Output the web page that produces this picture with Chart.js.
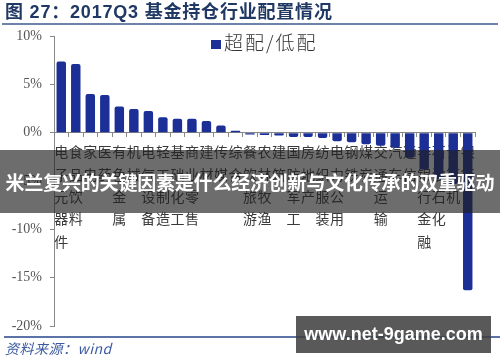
<!DOCTYPE html>
<html>
<head>
<meta charset="utf-8">
<script src="https://cdn.jsdelivr.net/npm/chart.js@4.4.1/dist/chart.umd.min.js"></script>
<style>
  body { margin: 0; background: #fff; }
  #wrap { position: relative; width: 500px; height: 362px; overflow: hidden; font-family: "Noto Sans CJK SC", sans-serif; }
  #myChart { position: absolute; left: 0; top: 0; }
  .title { position: absolute; left: 5px; top: 0px; font-size: 18px; font-weight: bold; color: #1f3864; letter-spacing: 0.8px; line-height: 24px; font-family: "Liberation Sans", "Noto Sans CJK SC", sans-serif; white-space: nowrap; }
  .topline { position: absolute; left: 2px; right: 2px; top: 23px; height: 2px; background: #6f82aa; }
  .legend { position: absolute; left: 211px; top: 29px; font-size: 19px; color: #333; white-space: nowrap; line-height: 26px; letter-spacing: 2px; font-weight: 300; }
  .legend i { display: inline-block; width: 10px; height: 9px; background: #1b2f96; margin-right: 3px; vertical-align: 1px; }
  .banner { position: absolute; left: 0; top: 150px; width: 500px; height: 63px; background: rgba(30,30,30,0.65); color: #fff; font-weight: bold; font-size: 19px; line-height: 63px; text-align: center; white-space: nowrap; letter-spacing: -0.2px; }
  .botline { position: absolute; left: 4px; right: 0; top: 336px; height: 1.5px; background: #5b73a6; }
  .source { position: absolute; left: 5px; top: 338px; font-size: 14px; font-style: italic; color: #3b5aa0; line-height: 20px; white-space: nowrap; letter-spacing: 0.5px; }
  .mark { position: absolute; left: 296px; top: 316px; width: 195px; height: 37px; background: rgba(60,60,60,0.85); color: #fff; font-weight: bold; font-size: 18px; line-height: 37px; text-align: center; font-family: "Liberation Sans", sans-serif; }
</style>
</head>
<body>
<div id="wrap">
  <canvas id="myChart" width="500" height="362"></canvas>
  <div class="title">图 27：2017Q3 基金持仓行业配置情况</div>
  <div class="topline"></div>
  <div class="legend"><i></i>超配/低配</div>
  <div class="botline"></div>
  <div class="source">资料来源：wind</div>
  <div class="banner">米兰复兴的关键因素是什么经济创新与文化传承的双重驱动</div>
  <div class="mark">www.net-9game.com</div>
</div>
<script>
  // industries, top to bottom of each vertical label
  let industries = ['电子元器件', '食品饮料', '家电', '医药', '有色金属', '机械', '电气设备', '轻工制造',
    '基础化工', '商业零售', '建材', '传媒', '综合', '餐饮旅游', '农林牧渔', '建筑', '国防军工', '房地产',
    '纺织服装', '电力公用', '钢铁', '煤炭', '交通运输', '汽车', '通信', '非银行金融', '石油石化', '计算机', '银行'];
  // over / under weight, %
  let weights = [7.35, 7.1, 4.0, 3.9, 2.7, 2.45, 2.25, 1.6, 1.45, 1.45, 1.2, 0.75, 0.2, -0.2, -0.25, -0.3,
    -0.45, -0.45, -0.55, -0.9, -1.0, -1.2, -1.35, -1.55, -2.6, -3.8, -4.8, -5.3, -16.3];
  let yTicks = [10, 5, 0, -5, -10, -15, -20];

  let labels = industries.map(s => s.split(''));

  let ctx = document.getElementById('myChart').getContext('2d');
  let chart = new Chart(ctx, {
    type: 'bar',
    data: {
      labels: labels,
      datasets: [{
        label: '超配/低配',
        data: weights,
        backgroundColor: '#1b2f96',
        barPercentage: 0.65,
        categoryPercentage: 1.0,
        borderRadius: 2
      }]
    },
    options: {
      responsive: false,
      animation: false,
      layout: { padding: { left: 0, right: 25, top: 36, bottom: 36 } },
      plugins: { legend: { display: false }, tooltip: { enabled: false } },
      scales: {
        x: {
          position: { y: 0 },
          grid: { offset: true, drawOnChartArea: false, tickLength: 4, color: '#888' },
          border: { color: '#888' },
          ticks: {
            autoSkip: false, maxRotation: 0, minRotation: 0, padding: 4,
            color: '#3a3a3a',
            font: { family: 'Noto Sans CJK SC', size: 14, lineHeight: 1.6 }
          }
        },
        y: {
          min: -20, max: 10,
          afterBuildTicks: s => { s.ticks = yTicks.map(v => ({ value: v })); },
          afterFit: s => { s.width = 54; },
          grid: { drawOnChartArea: false, tickLength: 4, color: '#888' },
          border: { color: '#888' },
          ticks: {
            padding: 8, color: '#555',
            callback: v => v + '%',
            font: { family: 'Liberation Serif', size: 14 }
          }
        }
      }
    }
  });
</script>
</body>
</html>
